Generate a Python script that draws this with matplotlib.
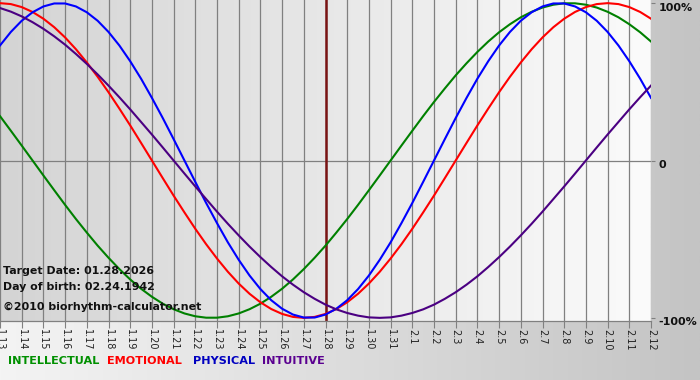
import numpy as np
import matplotlib
matplotlib.use('Agg')
import matplotlib.pyplot as plt
from matplotlib.colors import LinearSegmentedColormap
from matplotlib.transforms import ScaledTranslation

# Days shown on the x axis (month.day)
days = ['1.13', '1.14', '1.15', '1.16', '1.17', '1.18', '1.19', '1.20', '1.21', '1.22',
        '1.23', '1.24', '1.25', '1.26', '1.27', '1.28', '1.29', '1.30', '1.31', '2.1',
        '2.2', '2.3', '2.4', '2.5', '2.6', '2.7', '2.8', '2.9', '2.10', '2.11', '2.12']

# Curve values (-1 .. 1) every half day, from 1.13 to 2.12
intellectual = [0.282, 0.189, 0.095, 0.0,
                -0.095, -0.189, -0.282, -0.372, -0.458, -0.541, -0.618, -0.690,
                -0.756, -0.815, -0.866, -0.910, -0.945, -0.972, -0.990, -0.999,
                -0.999, -0.990, -0.972, -0.945, -0.910, -0.866, -0.815, -0.756,
                -0.690, -0.618, -0.541, -0.458, -0.372, -0.282, -0.189, -0.095,
                0.0, 0.095, 0.189, 0.282, 0.372, 0.458, 0.541, 0.618, 0.690,
                0.756, 0.815, 0.866, 0.910, 0.945, 0.972, 0.990, 0.999, 0.999,
                0.990, 0.972, 0.945, 0.910, 0.866, 0.815, 0.756]
emotional = [1.0, 0.994, 0.975, 0.944, 0.901, 0.847, 0.782, 0.707, 0.623, 0.532,
             0.434, 0.330, 0.223, 0.112, 0.0,
             -0.112, -0.223, -0.330, -0.434, -0.532, -0.623, -0.707, -0.782, -0.847,
             -0.901, -0.944, -0.975, -0.994, -1.0, -0.994, -0.975, -0.944, -0.901,
             -0.847, -0.782, -0.707, -0.623, -0.532, -0.434, -0.330, -0.223, -0.112,
             0.0, 0.112, 0.223, 0.330, 0.434, 0.532, 0.623, 0.707, 0.782, 0.847,
             0.901, 0.944, 0.975, 0.994, 1.0, 0.994, 0.975, 0.944, 0.901]
physical = [0.731, 0.817, 0.888, 0.942, 0.979, 0.998, 0.998, 0.979, 0.942, 0.888,
            0.817, 0.731, 0.631, 0.520, 0.398, 0.270, 0.136, 0.0,
            -0.136, -0.270, -0.398, -0.520, -0.631, -0.731, -0.817, -0.888, -0.942,
            -0.979, -0.998, -0.998, -0.979, -0.942, -0.888, -0.817, -0.731, -0.631,
            -0.520, -0.398, -0.270, -0.136,
            0.0, 0.136, 0.270, 0.398, 0.520, 0.631, 0.731, 0.817, 0.888, 0.942,
            0.979, 0.998, 0.998, 0.979, 0.942, 0.888, 0.817, 0.731, 0.631, 0.520, 0.398]
intuitive = [0.969, 0.946, 0.916, 0.879, 0.837, 0.789, 0.736, 0.677, 0.614, 0.547,
             0.476, 0.402, 0.325, 0.245, 0.165, 0.083, 0.0,
             -0.083, -0.165, -0.245, -0.325, -0.402, -0.476, -0.547, -0.614, -0.677,
             -0.736, -0.789, -0.837, -0.879, -0.916, -0.946, -0.969, -0.986, -0.997,
             -1.0, -0.997, -0.986, -0.969, -0.946, -0.916, -0.879, -0.837, -0.789,
             -0.736, -0.677, -0.614, -0.547, -0.476, -0.402, -0.325, -0.245, -0.165,
             -0.083, 0.0, 0.083, 0.165, 0.245, 0.325, 0.402, 0.476]

target_day = '1.28'
info_lines = ['Target Date: 01.28.2026', 'Day of birth: 02.24.1942', '\u00a92010 biorhythm-calculator.net']
legend_names = ['INTELLECTUAL', 'EMOTIONAL', 'PHYSICAL', 'INTUITIVE']
colors = ['#008000', '#ff0000', '#0000ff', '#4b0082']
legend_colors = ['#009000', '#ff0000', '#0000c0', '#5a0090']

x = np.arange(len(days))
x_half = np.arange(len(physical)) / 2
W, H = 700, 380

fig = plt.figure(figsize=(7, 3.8), dpi=100)

# figure background: light on the left, gray on the right
bg = fig.add_axes([0, 0, 1, 1])
bg_cmap = LinearSegmentedColormap.from_list('bg', ['#f4f4f4', '#c4c4c4'])
bg.imshow(np.linspace(0, 1, 256).reshape(1, -1), cmap=bg_cmap, aspect='auto',
          extent=[0, 1, 0, 1])
bg.set_axis_off()

ax = fig.add_axes([0, 1 - 321 / H, 651 / W, 321 / H])
ax.set_xlim(0, len(days) - 1)
ax.set_ylim(-1.02, 1.02)

# plot area background: gray on the left, near white on the right
pa_cmap = LinearSegmentedColormap.from_list('pa', ['#d4d4d4', '#fbfbfb'])
ax.imshow(np.linspace(0, 1, 256).reshape(1, -1), cmap=pa_cmap, aspect='auto',
          extent=[0, len(days) - 1, -1.02, 1.02], zorder=0)

for xi in x:
    ax.axvline(xi, color='#808080', lw=0.9, zorder=1)
ax.axhline(0, color='#808080', lw=0.9, zorder=1)
ax.axvline(days.index(target_day), color='#7a1414', lw=1.8, zorder=2)

for vals, c in zip([intellectual, emotional, physical, intuitive], colors):
    ax.plot(x_half, vals, color=c, lw=1.5, zorder=3, solid_joinstyle='round')

ax.set_xticks(x)
ax.set_xticklabels(days, rotation=270, fontsize=7, color='#222222')
ax.tick_params(axis='x', length=5, color='#808080', pad=1)

ax.yaxis.tick_right()
ax.set_yticks([1, 0, -1])
ax.set_yticklabels(['100%', '0', '-100%'], fontsize=8, fontweight='bold', color='#111111')
ax.tick_params(axis='y', length=3, color='#808080', pad=2.5)
shift = ScaledTranslation(0, -0.035, fig.dpi_scale_trans)
for lab in ax.get_yticklabels():
    lab.set_transform(lab.get_transform() + shift)

for side in ['top', 'left', 'right']:
    ax.spines[side].set_visible(False)
ax.spines['bottom'].set_color('#808080')
ax.spines['bottom'].set_linewidth(0.9)

# info text in the lower left
for line, y in zip(info_lines, [271, 287, 307]):
    fig.text(3 / W, 1 - y / H, line, fontsize=7.9, fontweight='bold',
             color='#111111', va='center', ha='left', zorder=5)

# legend row
legend_x = [8, 107, 193, 262]
for name, c, lx in zip(legend_names, legend_colors, legend_x):
    fig.text(lx / W, 1 - 361 / H, name, fontsize=8.1, fontweight='bold',
             color=c, va='center', ha='left')

fig.savefig('out.png', dpi=100)
